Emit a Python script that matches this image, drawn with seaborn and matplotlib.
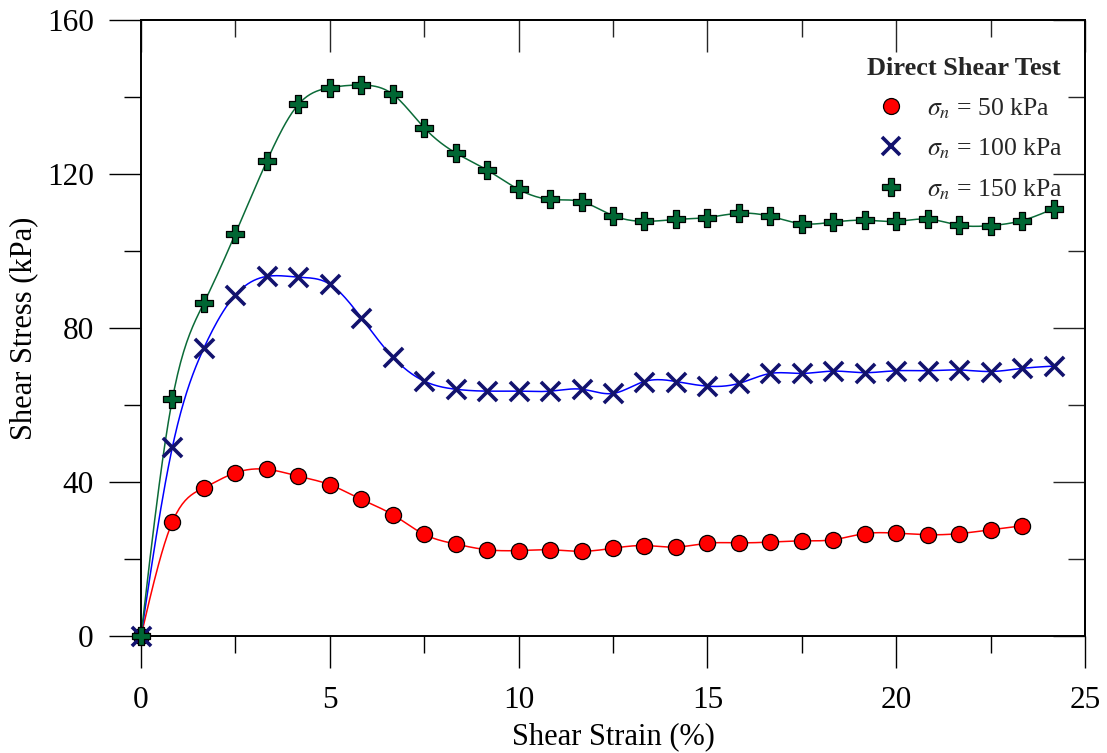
import numpy as np
import pandas as pd
import matplotlib
matplotlib.use("Agg")
import matplotlib.pyplot as plt
from matplotlib.lines import Line2D
from matplotlib.ticker import MultipleLocator
import seaborn as sns

# ---------------- data ----------------
strain_50 = [0.00, 0.83, 1.67, 2.50, 3.33, 4.17, 5.00, 5.83, 6.67, 7.50,
             8.33, 9.17, 10.00, 10.83, 11.67, 12.50, 13.33, 14.17, 15.00,
             15.83, 16.67, 17.50, 18.33, 19.17, 20.00, 20.83, 21.67, 22.50,
             23.33]
stress_50 = [0.0, 29.6, 38.5, 42.4, 43.3, 41.5, 39.3, 35.5, 31.5, 26.4,
             23.9, 22.4, 22.2, 22.4, 22.0, 22.8, 23.5, 23.1, 24.1, 24.2,
             24.4, 24.7, 25.0, 26.6, 26.7, 26.3, 26.6, 27.6, 28.6]

strain_100 = strain_50 + [24.17]
stress_100 = [0.0, 49.0, 74.9, 88.6, 93.4, 93.2, 91.4, 82.7, 72.4, 66.2,
              64.1, 63.6, 63.6, 63.6, 64.1, 63.0, 66.1, 66.1, 64.9, 65.6,
              68.2, 68.2, 68.8, 68.4, 68.9, 68.9, 69.1, 68.7, 69.5, 70.1]

strain_150 = strain_50 + [24.17]
stress_150 = [0.0, 61.5, 86.6, 104.5, 123.3, 138.1, 142.4, 143.1, 140.7, 132.0,
              125.5, 121.0, 116.0, 113.4, 112.8, 109.2, 107.7, 108.2, 108.7, 109.8,
              109.0, 107.1, 107.5, 108.0, 107.7, 108.3, 106.7, 106.6, 107.9, 111.0]

labels = [r"$\sigma_n$ = 50 kPa", r"$\sigma_n$ = 100 kPa", r"$\sigma_n$ = 150 kPa"]
legend_title = "Direct Shear Test"
xlabel = "Shear Strain (%)"
ylabel = "Shear Stress (kPa)"


def natural_spline(x, y, n=600):
    """Smooth curve drawn through the measured points (natural cubic spline)."""
    x = np.asarray(x, float)
    y = np.asarray(y, float)
    m = len(x)
    h = np.diff(x)
    A = np.zeros((m, m))
    b = np.zeros(m)
    A[0, 0] = A[-1, -1] = 1.0
    for i in range(1, m - 1):
        A[i, i - 1] = h[i - 1]
        A[i, i] = 2 * (h[i - 1] + h[i])
        A[i, i + 1] = h[i]
        b[i] = 6 * ((y[i + 1] - y[i]) / h[i] - (y[i] - y[i - 1]) / h[i - 1])
    M = np.linalg.solve(A, b)
    xs = np.linspace(x[0], x[-1], n)
    idx = np.clip(np.searchsorted(x, xs) - 1, 0, m - 2)
    x0, x1 = x[idx], x[idx + 1]
    hh = x1 - x0
    t0, t1 = x1 - xs, xs - x0
    ys = (M[idx] * t0 ** 3 / (6 * hh) + M[idx + 1] * t1 ** 3 / (6 * hh)
          + (y[idx] / hh - M[idx] * hh / 6) * t0
          + (y[idx + 1] / hh - M[idx + 1] * hh / 6) * t1)
    return xs, ys


# ---------------- style ----------------
sns.set_theme(style="white")
plt.rcParams["font.family"] = ["Liberation Serif", "DejaVu Serif"]
plt.rcParams["mathtext.fontset"] = "stix"

fig = plt.figure(figsize=(11.07, 7.53), dpi=100)
ax = fig.add_axes([141 / 1107, 1 - 636 / 753, (1085 - 141) / 1107, (636 - 20) / 753])

series = [
    (strain_50, stress_50, "#ff0000", dict(marker="o", s=135, color="#ff0000",
                                            edgecolor="black", linewidth=0.9)),
    (strain_100, stress_100, "#0000ff", dict(marker="x", s=190, color="#12126e",
                                              linewidth=2.6)),
    (strain_150, stress_150, "#0b6b38", dict(marker="P", s=165, color="#006633",
                                              edgecolor="black", linewidth=0.9)),
]

for xs, ys, lc, mk in series:
    cx, cy = natural_spline(xs, ys)
    sns.lineplot(x=cx, y=cy, color=lc, linewidth=1.1, sort=False,
                 estimator=None, ax=ax, zorder=2)

for xs, ys, lc, mk in series:
    sns.scatterplot(x=xs, y=ys, ax=ax, zorder=3, clip_on=False, legend=False, **mk)

ax.set_xlim(0, 25)
ax.set_ylim(0, 160)
ax.xaxis.set_major_locator(MultipleLocator(5))
ax.xaxis.set_minor_locator(MultipleLocator(2.5))
ax.yaxis.set_major_locator(MultipleLocator(40))
ax.yaxis.set_minor_locator(MultipleLocator(20))

for sp in ax.spines.values():
    sp.set_visible(True)
    sp.set_color("black")
    sp.set_linewidth(1.4)

ax.tick_params(axis="both", which="major", length=23, width=1.0, color="black",
               labelsize=22.5, labelcolor="black")
ax.tick_params(axis="both", which="minor", length=12, width=1.0, color="black")
ax.tick_params(axis="x", which="both", direction="out", bottom=True, top=False, pad=13)
ax.tick_params(axis="y", which="both", direction="out", left=True, right=False, pad=11)

# inward mirrored ticks on top and right
axt = ax.secondary_xaxis("top")
axt.xaxis.set_major_locator(MultipleLocator(5))
axt.xaxis.set_minor_locator(MultipleLocator(2.5))
axt.tick_params(which="major", direction="in", length=23, width=1.0, labeltop=False)
axt.tick_params(which="minor", direction="in", length=12, width=1.0)
axt.spines["top"].set_linewidth(1.4)
axr = ax.secondary_yaxis("right")
axr.yaxis.set_major_locator(MultipleLocator(40))
axr.yaxis.set_minor_locator(MultipleLocator(20))
axr.tick_params(which="major", direction="in", length=23, width=1.0, labelright=False)
axr.tick_params(which="minor", direction="in", length=12, width=1.0)
axr.spines["right"].set_linewidth(1.4)

ax.set_xlabel(xlabel, fontsize=22, color="black", labelpad=5)
ax.set_ylabel(ylabel, fontsize=22, color="black", labelpad=6)

handles = [
    Line2D([], [], linestyle="", marker="o", markersize=11.5, markerfacecolor="#ff0000",
           markeredgecolor="black", markeredgewidth=0.9),
    Line2D([], [], linestyle="", marker="x", markersize=13, color="#12126e",
           markeredgewidth=2.6),
    Line2D([], [], linestyle="", marker="P", markersize=12.5, markerfacecolor="#006633",
           markeredgecolor="black", markeredgewidth=0.9),
]
leg = ax.legend(handles, labels, title=legend_title, loc="upper right",
                bbox_to_anchor=(0.9926, 0.965), frameon=False, fontsize=18.5,
                title_fontproperties={"weight": "bold", "size": 19},
                labelspacing=0.62, handletextpad=0.4, borderaxespad=0.2)

fig.savefig("out.png", dpi=100)
